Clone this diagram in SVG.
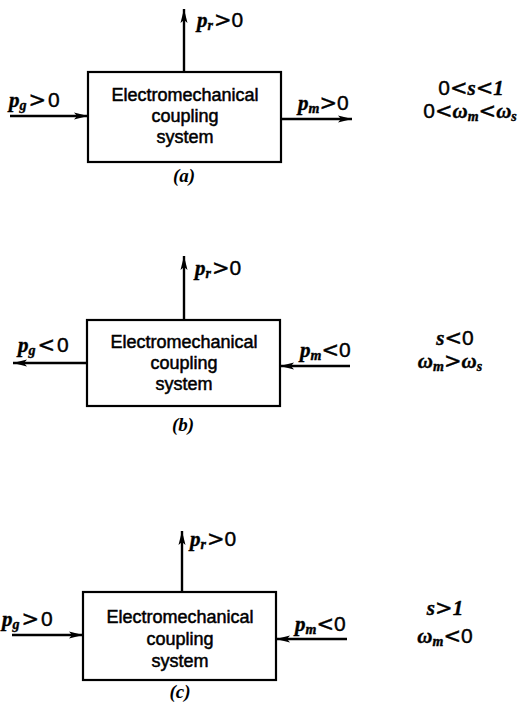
<svg xmlns="http://www.w3.org/2000/svg" width="529" height="703" viewBox="0 0 529 703">
<style>
.box{fill:#fff;stroke:#000;stroke-width:2.2}
.ln{stroke:#000;stroke-width:2.4;fill:none}
.bt{font-family:"Liberation Sans",Arial,sans-serif;font-size:18px;text-anchor:middle;fill:#000;stroke:#000;stroke-width:0.5}
.m{font-family:"Liberation Sans",Arial,sans-serif;font-size:21px;fill:#000;stroke:#000;stroke-width:0.4}
.r{font-family:"DejaVu Sans",sans-serif;font-size:21px}
.v{font-family:"Liberation Serif","Times New Roman",serif;font-style:italic;font-weight:bold}
.sub{font-family:"Liberation Serif","Times New Roman",serif;font-style:italic;font-weight:bold;font-size:14px}
.cap{font-family:"Liberation Serif","Times New Roman",serif;font-style:italic;font-weight:bold;font-size:19px;text-anchor:middle}
</style>
<defs>
<marker id="ah" viewBox="0 0 14 8" refX="14" refY="4" markerWidth="14" markerHeight="8" markerUnits="userSpaceOnUse" orient="auto">
<path d="M0,0.5 L14,4 L0,7.5 L3,4 Z" fill="#000"/>
</marker>
</defs>
<g id="connectors">
<line class="ln" x1="184" y1="72" x2="184" y2="9" marker-end="url(#ah)"/>
<line class="ln" x1="10" y1="116" x2="88" y2="116" marker-end="url(#ah)"/>
<line class="ln" x1="281" y1="119" x2="352" y2="119" marker-end="url(#ah)"/>
<line class="ln" x1="184" y1="320" x2="184" y2="256" marker-end="url(#ah)"/>
<line class="ln" x1="87" y1="363" x2="13" y2="363" marker-end="url(#ah)"/>
<line class="ln" x1="350" y1="366" x2="280" y2="366" marker-end="url(#ah)"/>
<line class="ln" x1="182" y1="592" x2="182" y2="531" marker-end="url(#ah)"/>
<line class="ln" x1="12" y1="635" x2="83" y2="635" marker-end="url(#ah)"/>
<line class="ln" x1="347" y1="639" x2="276" y2="639" marker-end="url(#ah)"/>
</g>
<g id="box-a">
<rect class="box" x="88" y="72" width="193" height="90"/>
<text class="bt" x="185" y="101">Electromechanical</text>
<text class="bt" x="185" y="122">coupling</text>
<text class="bt" x="185" y="143">system</text>
<text class="cap" x="184" y="182">(a)</text>
</g>
<g id="labels-a">
<text class="m" x="197" y="27"><tspan class="v">p</tspan><tspan class="sub" dy="3">r</tspan><tspan class="r" dy="-3" dx="1">&gt;</tspan><tspan>0</tspan></text>
<text class="m" x="9" y="107"><tspan class="v">p</tspan><tspan class="sub" dy="3">g</tspan><tspan class="r" dy="-3" dx="2">&gt;</tspan><tspan dx="2">0</tspan></text>
<text class="m" x="298" y="110"><tspan class="v">p</tspan><tspan class="sub" dy="3">m</tspan><tspan class="r" dy="-3">&gt;</tspan><tspan>0</tspan></text>
<text class="m" x="471" y="95" text-anchor="middle">0<tspan class="r">&lt;</tspan><tspan class="v">s</tspan><tspan class="r">&lt;</tspan><tspan class="v">1</tspan></text>
<text class="m" x="470" y="118" text-anchor="middle">0<tspan class="r">&lt;</tspan><tspan class="v">ω</tspan><tspan class="sub" dy="3">m</tspan><tspan class="r" dy="-3">&lt;</tspan><tspan class="v">ω</tspan><tspan class="sub" dy="3">s</tspan></text>
</g>
<g id="box-b">
<rect class="box" x="87" y="320" width="193" height="86"/>
<text class="bt" x="184" y="348">Electromechanical</text>
<text class="bt" x="184" y="369">coupling</text>
<text class="bt" x="184" y="390">system</text>
<text class="cap" x="183" y="431">(b)</text>
</g>
<g id="labels-b">
<text class="m" x="195" y="275"><tspan class="v">p</tspan><tspan class="sub" dy="3">r</tspan><tspan class="r" dy="-3" dx="1">&gt;</tspan><tspan>0</tspan></text>
<text class="m" x="18" y="352"><tspan class="v">p</tspan><tspan class="sub" dy="3">g</tspan><tspan class="r" dy="-3" dx="2">&lt;</tspan><tspan dx="2">0</tspan></text>
<text class="m" x="300" y="357"><tspan class="v">p</tspan><tspan class="sub" dy="3">m</tspan><tspan class="r" dy="-3">&lt;</tspan><tspan>0</tspan></text>
<text class="m" x="455" y="345" text-anchor="middle"><tspan class="v">s</tspan><tspan class="r">&lt;</tspan><tspan>0</tspan></text>
<text class="m" x="450" y="368" text-anchor="middle"><tspan class="v">ω</tspan><tspan class="sub" dy="3">m</tspan><tspan class="r" dy="-3">&gt;</tspan><tspan class="v">ω</tspan><tspan class="sub" dy="3">s</tspan></text>
</g>
<g id="box-c">
<rect class="box" x="83" y="592" width="193" height="88"/>
<text class="bt" x="180" y="623">Electromechanical</text>
<text class="bt" x="180" y="645">coupling</text>
<text class="bt" x="180" y="667">system</text>
<text class="cap" x="180" y="698">(c)</text>
</g>
<g id="labels-c">
<text class="m" x="190" y="546"><tspan class="v">p</tspan><tspan class="sub" dy="3">r</tspan><tspan class="r" dy="-3" dx="1">&gt;</tspan><tspan>0</tspan></text>
<text class="m" x="2" y="626"><tspan class="v">p</tspan><tspan class="sub" dy="3">g</tspan><tspan class="r" dy="-3" dx="2">&gt;</tspan><tspan dx="2">0</tspan></text>
<text class="m" x="295" y="631"><tspan class="v">p</tspan><tspan class="sub" dy="3">m</tspan><tspan class="r" dy="-3">&lt;</tspan><tspan>0</tspan></text>
<text class="m" x="445" y="615" text-anchor="middle"><tspan class="v">s</tspan><tspan class="r">&gt;</tspan><tspan class="v">1</tspan></text>
<text class="m" x="445" y="643" text-anchor="middle"><tspan class="v">ω</tspan><tspan class="sub" dy="3">m</tspan><tspan class="r" dy="-3">&lt;</tspan><tspan>0</tspan></text>
</g>
</svg>
